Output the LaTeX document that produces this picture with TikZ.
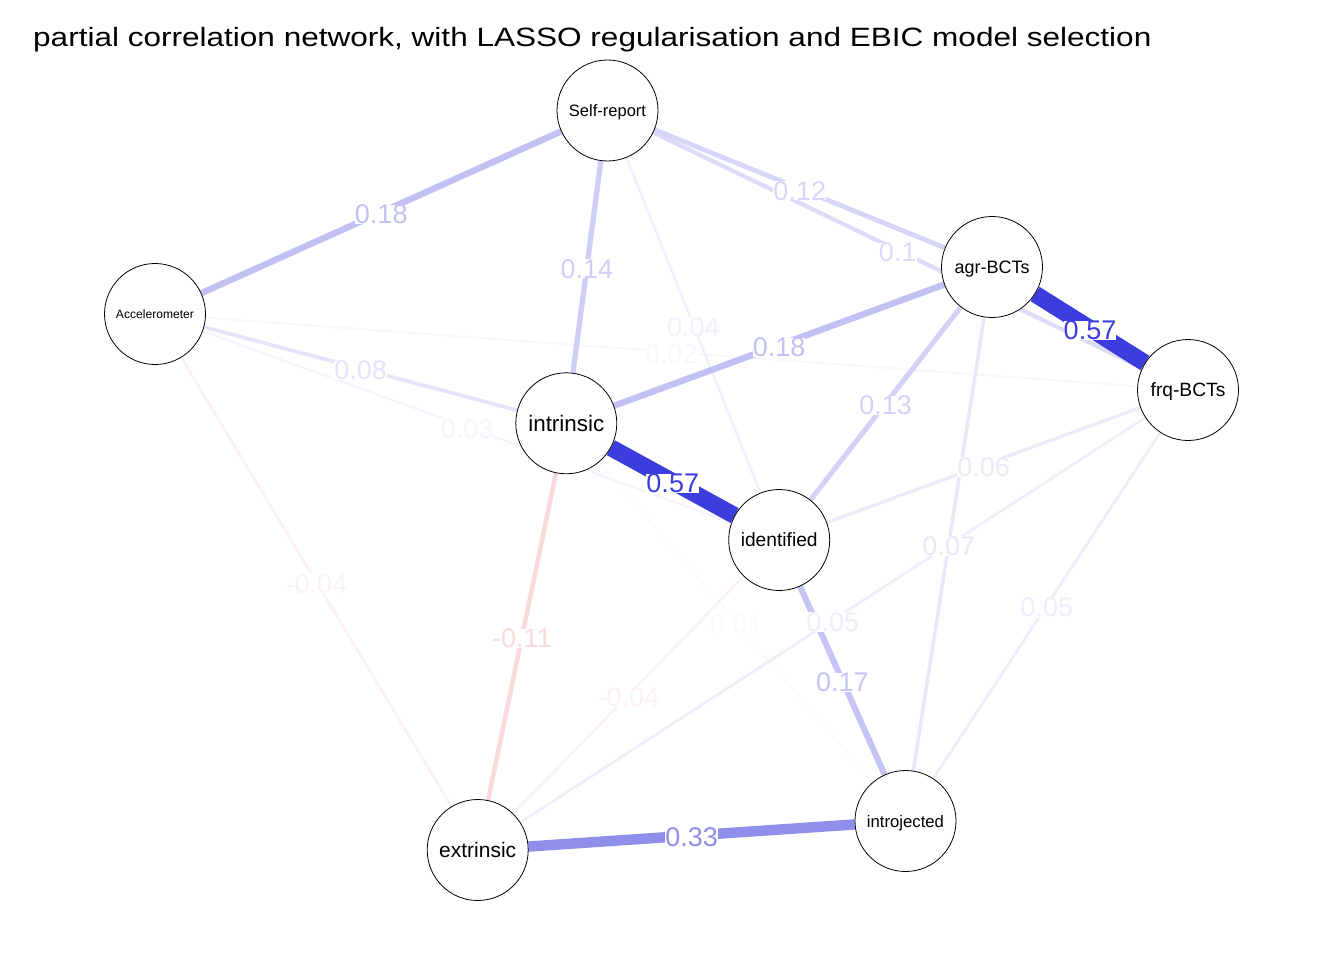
\documentclass[tikz,border=0pt]{standalone}
\usepackage{fontspec}
\setmainfont{Liberation Sans}
\definecolor{posc}{RGB}{61,61,221}
\definecolor{negc}{RGB}{221,61,61}
\pgfdeclarelayer{bg}
\pgfdeclarelayer{edges}
\pgfdeclarelayer{labels}
\pgfsetlayers{bg,edges,main,labels}
\newcommand\qedge[6]{%
  \pgfmathtruncatemacro\qpct{round(#3/0.57*100)}%
  \pgfmathsetmacro\qlw{1.5+27*#3}%
  \begin{pgfonlayer}{edges}
    \draw[line width=\qlw pt, draw=#5!\qpct!white] (#1) -- (#2) coordinate[midway] (#6);
  \end{pgfonlayer}
  \begin{pgfonlayer}{labels}
    \node[elab, text=#5!\qpct!white] (#6l) at (#6) {#4};
  \end{pgfonlayer}
}
\tikzset{
  vnode/.style={circle, draw=black, line width=0.8pt, fill=white, minimum size=101pt, inner sep=0pt, text depth=0pt},
  elab/.style={fill=white, inner sep=0pt, yshift=-2pt, font=\fontsize{27}{27}\selectfont},
}
\begin{document}
\begin{tikzpicture}[x=1pt,y=-1pt]
\begin{pgfonlayer}{bg}
\fill[white] (0,0) rectangle (1344,960);
\end{pgfonlayer}
\useasboundingbox (0,0) rectangle (1344,960);
\node[anchor=base west, inner sep=0pt, font=\fontsize{26.5}{30}\selectfont] (title) at (33,47)
  {\scalebox{1.19}[1]{partial correlation network, with LASSO regularisation and EBIC model selection}};

\node[vnode, font=\fontsize{16.5}{18}\selectfont] (sr) at (607.5,110.5) {Self-report};
\node[vnode, font=\fontsize{12.1}{14}\selectfont] (acc) at (155,314) {Accelerometer};
\node[vnode, font=\fontsize{18}{20}\selectfont] (agr) at (992,267) {agr-BCTs};
\node[vnode, font=\fontsize{19.2}{21}\selectfont] (frq) at (1188,390) {frq-BCTs};
\node[vnode, font=\fontsize{22.4}{24}\selectfont] (intr) at (566.3,423.3) {intrinsic};
\node[vnode, font=\fontsize{19.2}{21}\selectfont] (iden) at (779.2,540) {identified};
\node[vnode, font=\fontsize{21}{23}\selectfont] (extr) at (477.7,850) {extrinsic};
\node[vnode, font=\fontsize{16.7}{18}\selectfont] (intro) at (905.5,821) {introjected};

% edges, weakest first
\qedge{intr}{intro}{0.01}{0.01}{posc}{m13}
\qedge{acc}{frq}{0.02}{0.02}{posc}{m8}
\qedge{acc}{iden}{0.03}{0.03}{posc}{m7}
\qedge{sr}{iden}{0.04}{0.04}{posc}{m5}
\qedge{acc}{extr}{0.04}{-0.04}{negc}{m9}
\qedge{iden}{extr}{0.04}{-0.04}{negc}{m21}
\qedge{frq}{extr}{0.05}{0.05}{posc}{m18}
\qedge{frq}{intro}{0.05}{0.05}{posc}{m19}
\qedge{frq}{iden}{0.06}{0.06}{posc}{m17}
\qedge{agr}{intro}{0.07}{0.07}{posc}{m16}
\qedge{acc}{intr}{0.08}{0.08}{posc}{m6}
\qedge{sr}{frq}{0.1}{0.1}{posc}{m4}
\qedge{intr}{extr}{0.11}{-0.11}{negc}{m12}
\qedge{sr}{agr}{0.12}{0.12}{posc}{m3}
\qedge{agr}{iden}{0.13}{0.13}{posc}{m15}
\qedge{sr}{intr}{0.14}{0.14}{posc}{m2}
\qedge{iden}{intro}{0.17}{0.17}{posc}{m20}
\qedge{sr}{acc}{0.18}{0.18}{posc}{m1}
\qedge{intr}{agr}{0.18}{0.18}{posc}{m10}
\qedge{extr}{intro}{0.33}{0.33}{posc}{m22}
\qedge{agr}{frq}{0.57}{0.57}{posc}{m14}
\qedge{intr}{iden}{0.57}{0.57}{posc}{m11}
\end{tikzpicture}
\end{document}
